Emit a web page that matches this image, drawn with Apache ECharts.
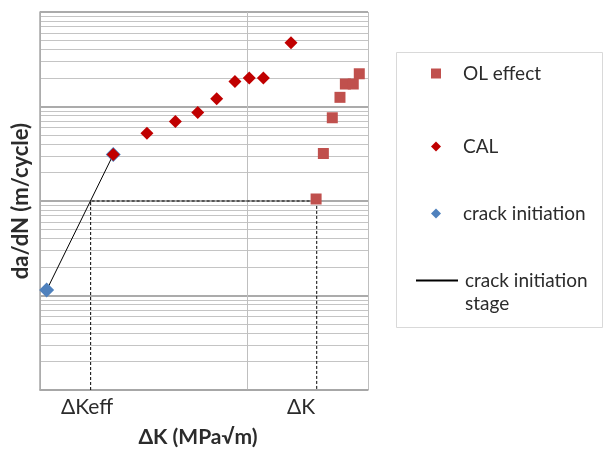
<!DOCTYPE html>
<html><head><meta charset="utf-8">
<script src="https://cdn.jsdelivr.net/npm/echarts@6/dist/echarts.min.js"></script>
<style>html,body{margin:0;padding:0;background:#fff}#c{width:606px;height:453px}</style>
</head><body><div id="c"></div>
<script>
// ---- data ----
const olK = [13.30, 13.65, 14.08, 14.45, 14.71, 15.09, 15.38];
const olRate = [1.05e-7, 3.18e-7, 7.60e-7, 1.25e-6, 1.73e-6, 1.73e-6, 2.22e-6];
const calK = [3.53, 5.15, 6.52, 7.60, 8.51, 9.39, 10.08, 10.76, 12.09];
const calRate = [3.10e-7, 5.20e-7, 6.95e-7, 8.65e-7, 1.21e-6, 1.84e-6, 2.0e-6, 2.0e-6, 4.72e-6];
const initK = [0.32, 3.53];
const initRate = [1.14e-8, 3.10e-7];
const guideK = [2.44, 13.33];      // ΔKeff, ΔK
const guideRate = 1e-7;
const guideLabels = ['ΔKeff', 'ΔK'];
// ---- axes ----
const yMin = 1e-9, yMax = 1e-5;
const xMin = 0, xMax = 15.8, xInterval = 10;
const minorPerDecade = 9;

const FONT = 'Lato';
const pair = (xs, ys) => xs.map((x, i) => [x, ys[i]]);

const chart = echarts.init(document.getElementById('c'), null, { renderer: 'canvas' });
const legendText = { fontFamily: FONT, fontSize: 19, color: '#2b2b2b', lineHeight: 23 };

chart.setOption({
  animation: false,
  backgroundColor: '#fff',
  grid: { left: 40, top: 12, width: 328, height: 380, containLabel: false },
  xAxis: {
    type: 'value', min: xMin, max: xMax, interval: xInterval,
    name: 'ΔK (MPa√m)', nameLocation: 'middle', nameGap: 37,
    nameTextStyle: { fontFamily: FONT, fontSize: 21, fontWeight: 'bold', color: '#2b2b2b', padding: [0, 12, 0, 0] },
    axisLine: { lineStyle: { color: '#a6a6a6', width: 1.5 } },
    axisTick: { show: false }, axisLabel: { show: false },
    splitLine: { show: true, lineStyle: { color: '#bfbfbf', width: 1 } }
  },
  yAxis: {
    type: 'log', logBase: 10, min: yMin, max: yMax,
    name: 'da/dN (m/cycle)', nameLocation: 'middle', nameGap: 8,
    nameTextStyle: { fontFamily: FONT, fontSize: 22, fontWeight: 'bold', color: '#2b2b2b' },
    axisLine: { show: true, lineStyle: { color: '#a6a6a6', width: 1.5 } },
    axisTick: { show: false }, axisLabel: { show: false },
    minorTick: { show: false, splitNumber: minorPerDecade },
    minorSplitLine: { show: true, lineStyle: { color: '#c4c4c4', width: 1 } },
    splitLine: { show: true, lineStyle: { color: '#8f8f8f', width: 1.5 } }
  },
  legend: [
    { data: [{ name: 'OL effect', icon: 'rect' }], left: 431, top: 62, itemWidth: 10, itemHeight: 10, padding: 0,
      textStyle: Object.assign({}, legendText, { padding: [0, 0, 0, 17] }) },
    { data: [{ name: 'CAL', icon: 'diamond' }], left: 431, top: 135, itemWidth: 10, itemHeight: 10, padding: 0,
      textStyle: Object.assign({}, legendText, { padding: [0, 0, 0, 17] }) },
    { data: [{ name: 'crack initiation', icon: 'diamond' }], left: 431, top: 202, itemWidth: 10, itemHeight: 10, padding: 0,
      textStyle: Object.assign({}, legendText, { padding: [0, 0, 0, 17] }) },
    { data: [{ name: 'crack initiation stage', itemStyle: { opacity: 0 } }], left: 415, top: 246, itemWidth: 42, itemHeight: 10, padding: 0,
      formatter: () => '\ncrack initiation\nstage',
      textStyle: Object.assign({}, legendText, { padding: [0, 0, 0, 2] }) }
  ],
  graphic: [
    { type: 'rect', shape: { x: 396.5, y: 52.5, width: 206, height: 275 },
      style: { fill: 'none', stroke: '#d9d9d9', lineWidth: 1 }, silent: true },
    { type: 'text', left: 61, top: 397, style: { text: guideLabels[0], font: '21px ' + FONT, fill: '#2b2b2b' } },
    { type: 'text', left: 287, top: 397, style: { text: guideLabels[1], font: '21px ' + FONT, fill: '#2b2b2b' } }
  ],
  series: [
    { name: 'guide', type: 'line', silent: true, z: 3,
      data: [[guideK[0], yMin], [guideK[0], guideRate], [guideK[1], guideRate], [guideK[1], yMin]],
      symbol: 'none', lineStyle: { color: '#000', width: 1, type: [3, 2] } },
    { name: 'crack initiation stage', type: 'line', z: 3, data: pair(initK, initRate),
      symbol: 'none', showSymbol: false, lineStyle: { color: '#000', width: 1 }, itemStyle: { color: '#000' } },
    { name: 'crack initiation', type: 'scatter', z: 4, data: pair(initK, initRate),
      symbol: 'diamond', symbolSize: 15, itemStyle: { color: '#4F81BD', opacity: 1 } },
    { name: 'CAL', type: 'scatter', z: 5, data: pair(calK, calRate),
      symbol: 'diamond', symbolSize: 13, itemStyle: { color: '#C00000', opacity: 1 } },
    { name: 'OL effect', type: 'scatter', z: 6, data: pair(olK, olRate),
      symbol: 'rect', symbolSize: 11, itemStyle: { color: '#C0504D', opacity: 1 } }
  ]
});
</script></body></html>
